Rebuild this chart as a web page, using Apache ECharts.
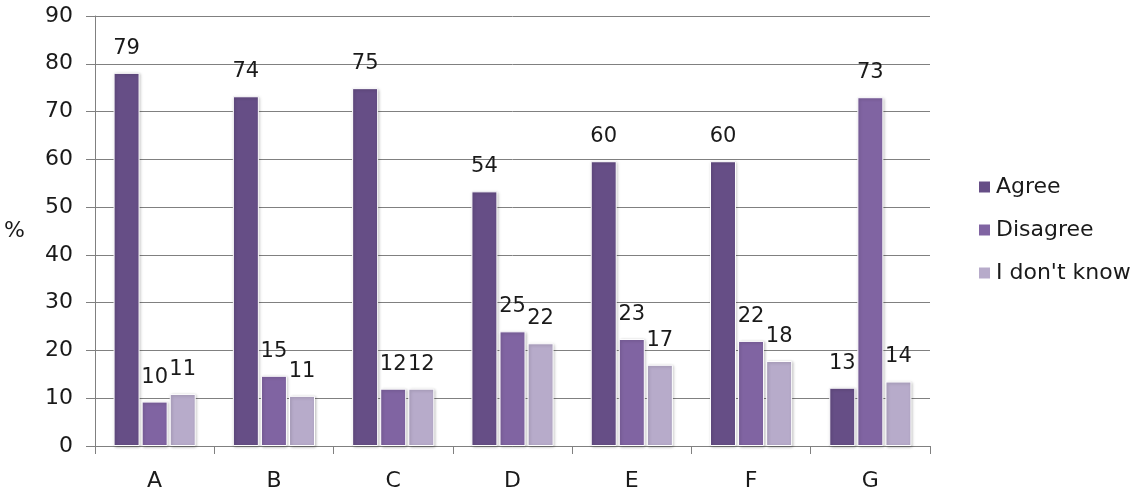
<!DOCTYPE html>
<html>
<head>
<meta charset="utf-8">
<script src="https://cdn.jsdelivr.net/npm/echarts@6/dist/echarts.min.js"></script>
<style>
html,body{margin:0;padding:0;background:#fff;}
#chart{width:1148px;height:493px;}
</style>
</head>
<body>
<div id="chart"></div>
<script>
const categories = ['A','B','C','D','E','F','G'];
const seriesNames = ['Agree','Disagree',"I don't know"];
const agree = [78.1, 73.2, 74.9, 53.3, 59.6, 59.6, 12.2];
const disagree = [9.3, 14.7, 12.0, 24.0, 22.4, 22.0, 73.0];
const dontKnow = [10.9, 10.5, 12.0, 21.5, 17.0, 17.8, 13.5];
const agreeLabels = ['79','74','75','54','60','60','13'];
const disagreeLabels = ['10','15','12','25','23','22','73'];
const dontKnowLabels = ['11','11','12','22','17','18','14'];
const yTicks = [0,10,20,30,40,50,60,70,80,90];

const colors = ['#664e86','#8064a2','#b7abca'];
const font = 'DejaVu Sans, Verdana, sans-serif';

function mk(name, data, labels, color){
  return {
    name: name, type: 'bar', data: data,
    barWidth: 26, barGap: '8%',
    itemStyle: {color: color, borderColor:'#ffffff', borderWidth:1,
      shadowColor:'rgba(0,0,0,0.25)', shadowBlur:3, shadowOffsetX:1, shadowOffsetY:1},
    label: {show:true, position:'top', distance:14, color:'#1a1a1a',
      fontFamily: font, fontSize:21,
      formatter: p => labels[p.dataIndex]},
    emphasis: {disabled:true}
  };
}

const chart = echarts.init(document.getElementById('chart'));
chart.setOption({
  animation:false,
  color: colors,
  grid:{left:95, right:218, top:16, bottom:47, containLabel:false},
  legend:{
    orient:'vertical', left:977, top:176, padding:0,
    itemWidth:13, itemHeight:13, itemGap:21,
    icon:'rect',
    textStyle:{fontFamily:font, fontSize:22, color:'#1a1a1a'},
    data: seriesNames
  },
  xAxis:{
    type:'category', data:categories,
    axisLine:{lineStyle:{color:'#808080', width:1}},
    axisTick:{show:true, length:8, lineStyle:{color:'#808080'}},
    axisLabel:{fontFamily:font, fontSize:22, color:'#1a1a1a', margin:24}
  },
  yAxis:{
    type:'value', min:yTicks[0], max:yTicks[yTicks.length-1], interval:10,
    name:'%', nameLocation:'middle', nameRotate:0, nameGap:70,
    nameTextStyle:{fontFamily:font, fontSize:22, color:'#1a1a1a'},
    axisLine:{show:true, lineStyle:{color:'#808080'}},
    axisTick:{show:true, length:9, lineStyle:{color:'#808080'}},
    splitLine:{lineStyle:{color:'#808080', width:1}},
    axisLabel:{fontFamily:font, fontSize:22, color:'#1a1a1a', margin:22}
  },
  series:[
    mk(seriesNames[0], agree, agreeLabels, colors[0]),
    mk(seriesNames[1], disagree, disagreeLabels, colors[1]),
    mk(seriesNames[2], dontKnow, dontKnowLabels, colors[2])
  ]
});
</script>
</body>
</html>
